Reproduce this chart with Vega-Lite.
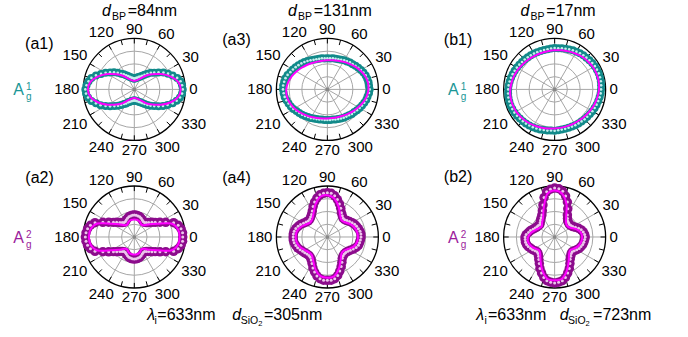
{
"$schema":"https://vega.github.io/schema/vega-lite/v6.json",
"padding":0,
"config":{"view":{"stroke":null},"font":"Liberation Sans","text":{"font":"Liberation Sans","color":"#000"}},
"datasets":{
"rings":[{"r":0.25},{"r":0.5},{"r":0.75},{"r":1}],
"ang30":[{"a":0,"t":"0"},{"a":30,"t":"30"},{"a":60,"t":"60"},{"a":90,"t":"90"},{"a":120,"t":"120"},{"a":150,"t":"150"},{"a":180,"t":"180"},{"a":210,"t":"210"},{"a":240,"t":"240"},{"a":270,"t":"270"},{"a":300,"t":"300"},{"a":330,"t":"330"}],
"ang15":[{"a":0},{"a":15},{"a":30},{"a":45},{"a":60},{"a":75},{"a":90},{"a":105},{"a":120},{"a":135},{"a":150},{"a":165},{"a":180},{"a":195},{"a":210},{"a":225},{"a":240},{"a":255},{"a":270},{"a":285},{"a":300},{"a":315},{"a":330},{"a":345}],
"a1f":[{"a":0,"r":0.91},{"a":10,"r":0.87},{"a":20,"r":0.75},{"a":30,"r":0.6},{"a":40,"r":0.46},{"a":50,"r":0.35},{"a":60,"r":0.25},{"a":70,"r":0.2},{"a":80,"r":0.175},{"a":90,"r":0.17},{"a":100,"r":0.175},{"a":110,"r":0.2},{"a":120,"r":0.25},{"a":130,"r":0.35},{"a":140,"r":0.46},{"a":150,"r":0.6},{"a":160,"r":0.75},{"a":170,"r":0.87},{"a":180,"r":0.91},{"a":190,"r":0.87},{"a":200,"r":0.75},{"a":210,"r":0.6},{"a":220,"r":0.46},{"a":230,"r":0.35},{"a":240,"r":0.25},{"a":250,"r":0.2},{"a":260,"r":0.175},{"a":270,"r":0.17},{"a":280,"r":0.175},{"a":290,"r":0.2},{"a":300,"r":0.25},{"a":310,"r":0.35},{"a":320,"r":0.46},{"a":330,"r":0.6},{"a":340,"r":0.75},{"a":350,"r":0.87}],
"a1d":[{"a":0,"r":0.95},{"a":5,"r":0.94},{"a":10,"r":0.92},{"a":15,"r":0.87},{"a":20,"r":0.8},{"a":25,"r":0.73},{"a":30,"r":0.66},{"a":35,"r":0.58},{"a":40,"r":0.51},{"a":45,"r":0.46},{"a":50,"r":0.4},{"a":55,"r":0.35},{"a":60,"r":0.31},{"a":65,"r":0.28},{"a":70,"r":0.26},{"a":75,"r":0.24},{"a":80,"r":0.23},{"a":85,"r":0.22},{"a":90,"r":0.21},{"a":95,"r":0.22},{"a":100,"r":0.23},{"a":105,"r":0.24},{"a":110,"r":0.26},{"a":115,"r":0.29},{"a":120,"r":0.32},{"a":125,"r":0.36},{"a":130,"r":0.4},{"a":135,"r":0.46},{"a":140,"r":0.52},{"a":145,"r":0.58},{"a":150,"r":0.65},{"a":155,"r":0.72},{"a":160,"r":0.8},{"a":165,"r":0.87},{"a":170,"r":0.91},{"a":175,"r":0.94},{"a":180,"r":0.96},{"a":185,"r":0.95},{"a":190,"r":0.92},{"a":195,"r":0.87},{"a":200,"r":0.8},{"a":205,"r":0.73},{"a":210,"r":0.65},{"a":215,"r":0.58},{"a":220,"r":0.51},{"a":225,"r":0.45},{"a":230,"r":0.4},{"a":235,"r":0.35},{"a":240,"r":0.32},{"a":245,"r":0.28},{"a":250,"r":0.26},{"a":255,"r":0.24},{"a":260,"r":0.23},{"a":265,"r":0.22},{"a":270,"r":0.22},{"a":275,"r":0.22},{"a":280,"r":0.23},{"a":285,"r":0.24},{"a":290,"r":0.26},{"a":295,"r":0.28},{"a":300,"r":0.31},{"a":305,"r":0.35},{"a":310,"r":0.4},{"a":315,"r":0.45},{"a":320,"r":0.51},{"a":325,"r":0.58},{"a":330,"r":0.65},{"a":335,"r":0.72},{"a":340,"r":0.8},{"a":345,"r":0.86},{"a":350,"r":0.91},{"a":355,"r":0.94}],
"a3f":[{"a":0,"r":0.806},{"a":10,"r":0.806},{"a":20,"r":0.783},{"a":30,"r":0.745},{"a":40,"r":0.7},{"a":50,"r":0.66},{"a":60,"r":0.625},{"a":70,"r":0.598},{"a":80,"r":0.58},{"a":90,"r":0.571},{"a":100,"r":0.571},{"a":110,"r":0.58},{"a":120,"r":0.598},{"a":130,"r":0.625},{"a":140,"r":0.66},{"a":150,"r":0.7},{"a":160,"r":0.745},{"a":170,"r":0.783},{"a":180,"r":0.806},{"a":190,"r":0.806},{"a":200,"r":0.783},{"a":210,"r":0.745},{"a":220,"r":0.7},{"a":230,"r":0.66},{"a":240,"r":0.625},{"a":250,"r":0.598},{"a":260,"r":0.58},{"a":270,"r":0.571},{"a":280,"r":0.571},{"a":290,"r":0.58},{"a":300,"r":0.598},{"a":310,"r":0.625},{"a":320,"r":0.66},{"a":330,"r":0.7},{"a":340,"r":0.745},{"a":350,"r":0.783}],
"a3d":[{"a":0,"r":0.83},{"a":5,"r":0.82},{"a":10,"r":0.82},{"a":15,"r":0.81},{"a":20,"r":0.8},{"a":25,"r":0.78},{"a":30,"r":0.76},{"a":35,"r":0.74},{"a":40,"r":0.72},{"a":45,"r":0.7},{"a":50,"r":0.69},{"a":55,"r":0.67},{"a":60,"r":0.66},{"a":65,"r":0.64},{"a":70,"r":0.63},{"a":75,"r":0.62},{"a":80,"r":0.62},{"a":85,"r":0.61},{"a":90,"r":0.61},{"a":95,"r":0.61},{"a":100,"r":0.62},{"a":105,"r":0.62},{"a":110,"r":0.63},{"a":115,"r":0.64},{"a":120,"r":0.66},{"a":125,"r":0.68},{"a":130,"r":0.7},{"a":135,"r":0.72},{"a":140,"r":0.74},{"a":145,"r":0.76},{"a":150,"r":0.78},{"a":155,"r":0.8},{"a":160,"r":0.83},{"a":165,"r":0.85},{"a":170,"r":0.86},{"a":175,"r":0.87},{"a":180,"r":0.87},{"a":185,"r":0.86},{"a":190,"r":0.85},{"a":195,"r":0.83},{"a":200,"r":0.81},{"a":205,"r":0.79},{"a":210,"r":0.77},{"a":215,"r":0.74},{"a":220,"r":0.72},{"a":225,"r":0.7},{"a":230,"r":0.68},{"a":235,"r":0.66},{"a":240,"r":0.65},{"a":245,"r":0.63},{"a":250,"r":0.62},{"a":255,"r":0.61},{"a":260,"r":0.6},{"a":265,"r":0.6},{"a":270,"r":0.6},{"a":275,"r":0.6},{"a":280,"r":0.6},{"a":285,"r":0.61},{"a":290,"r":0.62},{"a":295,"r":0.63},{"a":300,"r":0.64},{"a":305,"r":0.65},{"a":310,"r":0.66},{"a":315,"r":0.68},{"a":320,"r":0.69},{"a":325,"r":0.71},{"a":330,"r":0.73},{"a":335,"r":0.75},{"a":340,"r":0.77},{"a":345,"r":0.79},{"a":350,"r":0.8},{"a":355,"r":0.82}],
"b1f":[{"a":0,"r":0.87},{"a":10,"r":0.878},{"a":20,"r":0.878},{"a":30,"r":0.87},{"a":40,"r":0.853},{"a":50,"r":0.835},{"a":60,"r":0.813},{"a":70,"r":0.793},{"a":80,"r":0.778},{"a":90,"r":0.767},{"a":100,"r":0.761},{"a":110,"r":0.761},{"a":120,"r":0.767},{"a":130,"r":0.778},{"a":140,"r":0.793},{"a":150,"r":0.813},{"a":160,"r":0.835},{"a":170,"r":0.853},{"a":180,"r":0.87},{"a":190,"r":0.878},{"a":200,"r":0.878},{"a":210,"r":0.87},{"a":220,"r":0.853},{"a":230,"r":0.835},{"a":240,"r":0.813},{"a":250,"r":0.793},{"a":260,"r":0.778},{"a":270,"r":0.767},{"a":280,"r":0.761},{"a":290,"r":0.761},{"a":300,"r":0.767},{"a":310,"r":0.778},{"a":320,"r":0.793},{"a":330,"r":0.813},{"a":340,"r":0.835},{"a":350,"r":0.853}],
"b1d":[{"a":0,"r":0.91},{"a":5,"r":0.915},{"a":10,"r":0.92},{"a":15,"r":0.92},{"a":20,"r":0.92},{"a":25,"r":0.915},{"a":30,"r":0.91},{"a":35,"r":0.9},{"a":40,"r":0.89},{"a":45,"r":0.88},{"a":50,"r":0.875},{"a":55,"r":0.865},{"a":60,"r":0.855},{"a":65,"r":0.845},{"a":70,"r":0.835},{"a":75,"r":0.825},{"a":80,"r":0.82},{"a":85,"r":0.81},{"a":90,"r":0.81},{"a":95,"r":0.805},{"a":100,"r":0.8},{"a":105,"r":0.8},{"a":110,"r":0.8},{"a":115,"r":0.805},{"a":120,"r":0.81},{"a":125,"r":0.815},{"a":130,"r":0.82},{"a":135,"r":0.83},{"a":140,"r":0.835},{"a":145,"r":0.845},{"a":150,"r":0.855},{"a":155,"r":0.865},{"a":160,"r":0.875},{"a":165,"r":0.885},{"a":170,"r":0.895},{"a":175,"r":0.905},{"a":180,"r":0.91},{"a":185,"r":0.915},{"a":190,"r":0.92},{"a":195,"r":0.92},{"a":200,"r":0.92},{"a":205,"r":0.915},{"a":210,"r":0.91},{"a":215,"r":0.9},{"a":220,"r":0.89},{"a":225,"r":0.88},{"a":230,"r":0.875},{"a":235,"r":0.865},{"a":240,"r":0.855},{"a":245,"r":0.845},{"a":250,"r":0.835},{"a":255,"r":0.825},{"a":260,"r":0.82},{"a":265,"r":0.81},{"a":270,"r":0.81},{"a":275,"r":0.805},{"a":280,"r":0.8},{"a":285,"r":0.8},{"a":290,"r":0.8},{"a":295,"r":0.805},{"a":300,"r":0.81},{"a":305,"r":0.815},{"a":310,"r":0.82},{"a":315,"r":0.83},{"a":320,"r":0.835},{"a":325,"r":0.845},{"a":330,"r":0.855},{"a":335,"r":0.865},{"a":340,"r":0.875},{"a":345,"r":0.885},{"a":350,"r":0.895},{"a":355,"r":0.905}],
"a2f":[{"a":0,"r":0.89},{"a":10,"r":0.87},{"a":20,"r":0.77},{"a":30,"r":0.52},{"a":40,"r":0.39},{"a":50,"r":0.3},{"a":60,"r":0.28},{"a":70,"r":0.32},{"a":80,"r":0.34},{"a":90,"r":0.345},{"a":100,"r":0.34},{"a":110,"r":0.32},{"a":120,"r":0.28},{"a":130,"r":0.3},{"a":140,"r":0.39},{"a":150,"r":0.52},{"a":160,"r":0.77},{"a":170,"r":0.87},{"a":180,"r":0.89},{"a":190,"r":0.87},{"a":200,"r":0.77},{"a":210,"r":0.52},{"a":220,"r":0.39},{"a":230,"r":0.3},{"a":240,"r":0.28},{"a":250,"r":0.32},{"a":260,"r":0.34},{"a":270,"r":0.345},{"a":280,"r":0.34},{"a":290,"r":0.32},{"a":300,"r":0.28},{"a":310,"r":0.3},{"a":320,"r":0.39},{"a":330,"r":0.52},{"a":340,"r":0.77},{"a":350,"r":0.87}],
"a2d":[{"a":0,"r":0.95},{"a":5,"r":0.95},{"a":10,"r":0.93},{"a":15,"r":0.89},{"a":20,"r":0.82},{"a":25,"r":0.68},{"a":30,"r":0.58},{"a":35,"r":0.5},{"a":40,"r":0.45},{"a":45,"r":0.4},{"a":50,"r":0.37},{"a":55,"r":0.35},{"a":60,"r":0.35},{"a":65,"r":0.37},{"a":70,"r":0.39},{"a":75,"r":0.41},{"a":80,"r":0.42},{"a":85,"r":0.43},{"a":90,"r":0.43},{"a":95,"r":0.43},{"a":100,"r":0.42},{"a":105,"r":0.41},{"a":110,"r":0.39},{"a":115,"r":0.37},{"a":120,"r":0.35},{"a":125,"r":0.35},{"a":130,"r":0.37},{"a":135,"r":0.4},{"a":140,"r":0.45},{"a":145,"r":0.5},{"a":150,"r":0.58},{"a":155,"r":0.68},{"a":160,"r":0.82},{"a":165,"r":0.89},{"a":170,"r":0.93},{"a":175,"r":0.95},{"a":180,"r":0.96},{"a":185,"r":0.95},{"a":190,"r":0.93},{"a":195,"r":0.89},{"a":200,"r":0.82},{"a":205,"r":0.68},{"a":210,"r":0.58},{"a":215,"r":0.5},{"a":220,"r":0.45},{"a":225,"r":0.4},{"a":230,"r":0.37},{"a":235,"r":0.35},{"a":240,"r":0.35},{"a":245,"r":0.37},{"a":250,"r":0.39},{"a":255,"r":0.41},{"a":260,"r":0.42},{"a":265,"r":0.43},{"a":270,"r":0.43},{"a":275,"r":0.43},{"a":280,"r":0.42},{"a":285,"r":0.41},{"a":290,"r":0.39},{"a":295,"r":0.37},{"a":300,"r":0.35},{"a":305,"r":0.35},{"a":310,"r":0.37},{"a":315,"r":0.4},{"a":320,"r":0.45},{"a":325,"r":0.5},{"a":330,"r":0.58},{"a":335,"r":0.68},{"a":340,"r":0.82},{"a":345,"r":0.89},{"a":350,"r":0.93},{"a":355,"r":0.95}],
"a4f":[{"a":0,"r":0.6},{"a":10,"r":0.59},{"a":20,"r":0.56},{"a":30,"r":0.51},{"a":40,"r":0.45},{"a":50,"r":0.43},{"a":60,"r":0.5},{"a":70,"r":0.64},{"a":80,"r":0.77},{"a":90,"r":0.82},{"a":100,"r":0.8},{"a":110,"r":0.68},{"a":120,"r":0.54},{"a":130,"r":0.46},{"a":140,"r":0.44},{"a":150,"r":0.49},{"a":160,"r":0.56},{"a":170,"r":0.61},{"a":180,"r":0.62},{"a":190,"r":0.61},{"a":200,"r":0.57},{"a":210,"r":0.51},{"a":220,"r":0.47},{"a":230,"r":0.47},{"a":240,"r":0.55},{"a":250,"r":0.68},{"a":260,"r":0.78},{"a":270,"r":0.8},{"a":280,"r":0.78},{"a":290,"r":0.66},{"a":300,"r":0.52},{"a":310,"r":0.43},{"a":320,"r":0.42},{"a":330,"r":0.47},{"a":340,"r":0.55},{"a":350,"r":0.59}],
"a4d":[{"a":0,"r":0.66},{"a":5,"r":0.66},{"a":10,"r":0.65},{"a":15,"r":0.63},{"a":20,"r":0.61},{"a":25,"r":0.59},{"a":30,"r":0.56},{"a":35,"r":0.53},{"a":40,"r":0.5},{"a":45,"r":0.48},{"a":50,"r":0.48},{"a":55,"r":0.51},{"a":60,"r":0.55},{"a":65,"r":0.62},{"a":70,"r":0.69},{"a":75,"r":0.76},{"a":80,"r":0.82},{"a":85,"r":0.86},{"a":90,"r":0.87},{"a":95,"r":0.86},{"a":100,"r":0.84},{"a":105,"r":0.79},{"a":110,"r":0.73},{"a":115,"r":0.66},{"a":120,"r":0.59},{"a":125,"r":0.54},{"a":130,"r":0.51},{"a":135,"r":0.49},{"a":140,"r":0.49},{"a":145,"r":0.51},{"a":150,"r":0.54},{"a":155,"r":0.58},{"a":160,"r":0.61},{"a":165,"r":0.64},{"a":170,"r":0.66},{"a":175,"r":0.67},{"a":180,"r":0.67},{"a":185,"r":0.67},{"a":190,"r":0.66},{"a":195,"r":0.64},{"a":200,"r":0.62},{"a":205,"r":0.59},{"a":210,"r":0.56},{"a":215,"r":0.54},{"a":220,"r":0.52},{"a":225,"r":0.51},{"a":230,"r":0.52},{"a":235,"r":0.55},{"a":240,"r":0.6},{"a":245,"r":0.67},{"a":250,"r":0.73},{"a":255,"r":0.79},{"a":260,"r":0.83},{"a":265,"r":0.85},{"a":270,"r":0.85},{"a":275,"r":0.85},{"a":280,"r":0.83},{"a":285,"r":0.78},{"a":290,"r":0.71},{"a":295,"r":0.64},{"a":300,"r":0.57},{"a":305,"r":0.51},{"a":310,"r":0.48},{"a":315,"r":0.47},{"a":320,"r":0.47},{"a":325,"r":0.49},{"a":330,"r":0.52},{"a":335,"r":0.56},{"a":340,"r":0.6},{"a":345,"r":0.63},{"a":350,"r":0.64},{"a":355,"r":0.65}],
"b2f":[{"a":0,"r":0.54},{"a":10,"r":0.52},{"a":20,"r":0.45},{"a":30,"r":0.36},{"a":40,"r":0.33},{"a":50,"r":0.35},{"a":60,"r":0.45},{"a":70,"r":0.68},{"a":80,"r":0.86},{"a":90,"r":0.91},{"a":100,"r":0.85},{"a":110,"r":0.62},{"a":120,"r":0.45},{"a":130,"r":0.38},{"a":140,"r":0.33},{"a":150,"r":0.35},{"a":160,"r":0.4},{"a":170,"r":0.47},{"a":180,"r":0.52},{"a":190,"r":0.53},{"a":200,"r":0.5},{"a":210,"r":0.45},{"a":220,"r":0.4},{"a":230,"r":0.44},{"a":240,"r":0.55},{"a":250,"r":0.7},{"a":260,"r":0.83},{"a":270,"r":0.85},{"a":280,"r":0.83},{"a":290,"r":0.7},{"a":300,"r":0.55},{"a":310,"r":0.44},{"a":320,"r":0.4},{"a":330,"r":0.45},{"a":340,"r":0.5},{"a":350,"r":0.53}],
"b2d":[{"a":0,"r":0.6},{"a":5,"r":0.59},{"a":10,"r":0.57},{"a":15,"r":0.54},{"a":20,"r":0.5},{"a":25,"r":0.45},{"a":30,"r":0.41},{"a":35,"r":0.39},{"a":40,"r":0.38},{"a":45,"r":0.39},{"a":50,"r":0.4},{"a":55,"r":0.44},{"a":60,"r":0.5},{"a":65,"r":0.61},{"a":70,"r":0.73},{"a":75,"r":0.83},{"a":80,"r":0.91},{"a":85,"r":0.95},{"a":90,"r":0.96},{"a":95,"r":0.94},{"a":100,"r":0.9},{"a":105,"r":0.8},{"a":110,"r":0.67},{"a":115,"r":0.57},{"a":120,"r":0.5},{"a":125,"r":0.46},{"a":130,"r":0.43},{"a":135,"r":0.4},{"a":140,"r":0.38},{"a":145,"r":0.39},{"a":150,"r":0.4},{"a":155,"r":0.42},{"a":160,"r":0.45},{"a":165,"r":0.49},{"a":170,"r":0.52},{"a":175,"r":0.56},{"a":180,"r":0.58},{"a":185,"r":0.58},{"a":190,"r":0.58},{"a":195,"r":0.57},{"a":200,"r":0.55},{"a":205,"r":0.52},{"a":210,"r":0.5},{"a":215,"r":0.47},{"a":220,"r":0.45},{"a":225,"r":0.46},{"a":230,"r":0.49},{"a":235,"r":0.54},{"a":240,"r":0.6},{"a":245,"r":0.68},{"a":250,"r":0.75},{"a":255,"r":0.82},{"a":260,"r":0.87},{"a":265,"r":0.89},{"a":270,"r":0.9},{"a":275,"r":0.89},{"a":280,"r":0.87},{"a":285,"r":0.82},{"a":290,"r":0.75},{"a":295,"r":0.68},{"a":300,"r":0.6},{"a":305,"r":0.53},{"a":310,"r":0.49},{"a":315,"r":0.46},{"a":320,"r":0.45},{"a":325,"r":0.47},{"a":330,"r":0.5},{"a":335,"r":0.53},{"a":340,"r":0.55},{"a":345,"r":0.57},{"a":350,"r":0.58},{"a":355,"r":0.59}]
},
"columns":3,
"spacing":0,
"bounds":"flush",
"concat":[
{"width":229.333,"height":168.5,"data":{"values":[{}]},"layer":[
{"data":{"name":"rings"},"transform":[{"filter":"datum.r<1"}],"mark":{"type":"point","shape":"circle","filled":false,"color":"#a6a6a6","strokeWidth":1,"opacity":1},"encoding":{"x":{"datum":0,"type":"quantitative","axis":null,"scale":{"domain":[-2.6333,1.8634],"nice":false,"zero":false}},"y":{"datum":0,"type":"quantitative","axis":null,"scale":{"domain":[-1.551,1.7529],"nice":false,"zero":false}},"size":{"field":"r","type":"quantitative","legend":null,"scale":{"type":"pow","exponent":2,"domain":[0,1],"range":[0,10404],"zero":true}}}},
{"data":{"name":"ang30"},"transform":[{"calculate":"0","as":"z"},{"calculate":"cos(datum.a*PI/180)","as":"cx"},{"calculate":"sin(datum.a*PI/180)","as":"cy"}],"mark":{"type":"rule","color":"#a6a6a6","strokeWidth":1},"encoding":{"x":{"field":"z","type":"quantitative","axis":null},"y":{"field":"z","type":"quantitative","axis":null},"x2":{"field":"cx"},"y2":{"field":"cy"}}},
{"data":{"name":"rings"},"transform":[{"filter":"datum.r==1"}],"mark":{"type":"point","shape":"circle","filled":false,"color":"#000000","strokeWidth":1.3,"opacity":1},"encoding":{"x":{"datum":0,"type":"quantitative","axis":null},"y":{"datum":0,"type":"quantitative","axis":null},"size":{"field":"r","type":"quantitative","legend":null}}},
{"data":{"name":"ang15"},"transform":[{"calculate":"0.9*cos(datum.a*PI/180)","as":"x1"},{"calculate":"0.9*sin(datum.a*PI/180)","as":"y1"},{"calculate":"cos(datum.a*PI/180)","as":"x2"},{"calculate":"sin(datum.a*PI/180)","as":"y2"}],"mark":{"type":"rule","color":"#000000","strokeWidth":1},"encoding":{"x":{"field":"x1","type":"quantitative","axis":null},"y":{"field":"y1","type":"quantitative","axis":null},"x2":{"field":"x2"},"y2":{"field":"y2"}}},
{"mark":{"type":"point","filled":true,"color":"#888888","size":14,"opacity":1},"encoding":{"x":{"datum":0,"type":"quantitative","axis":null},"y":{"datum":0,"type":"quantitative","axis":null}}},
{"data":{"name":"ang30"},"transform":[{"calculate":"cos(datum.a*PI/180)","as":"c"},{"calculate":"sin(datum.a*PI/180)","as":"s"},{"calculate":"1.078+abs(datum.c)*0.0818*length(datum.t)+abs(datum.s)*0.108","as":"rho"},{"calculate":"datum.rho*datum.c","as":"lx"},{"calculate":"datum.rho*datum.s","as":"ly"}],"mark":{"type":"text","fontSize":15,"align":"center","baseline":"middle"},"encoding":{"x":{"field":"lx","type":"quantitative","axis":null},"y":{"field":"ly","type":"quantitative","axis":null},"text":{"field":"t","type":"nominal"}}},
{"data":{"name":"a1d"},"transform":[{"calculate":"datum.r*cos(datum.a*PI/180)","as":"x"},{"calculate":"datum.r*sin(datum.a*PI/180)","as":"y"}],"mark":{"type":"point","filled":true,"color":"#128a8a","size":64,"opacity":1},"encoding":{"x":{"field":"x","type":"quantitative","axis":null},"y":{"field":"y","type":"quantitative","axis":null}}},
{"data":{"name":"a1d"},"transform":[{"calculate":"datum.r*cos(datum.a*PI/180)","as":"x"},{"calculate":"datum.r*sin(datum.a*PI/180)","as":"y"}],"mark":{"type":"point","filled":true,"color":"#c6eeee","size":7,"opacity":1},"encoding":{"x":{"field":"x","type":"quantitative","axis":null},"y":{"field":"y","type":"quantitative","axis":null}}},
{"data":{"name":"a1f"},"transform":[{"calculate":"datum.r*cos(datum.a*PI/180)","as":"x"},{"calculate":"datum.r*sin(datum.a*PI/180)","as":"y"}],"mark":{"type":"line","interpolate":"cardinal-closed","color":"#ff00ff","strokeWidth":2},"encoding":{"x":{"field":"x","type":"quantitative","axis":null},"y":{"field":"y","type":"quantitative","axis":null},"order":{"field":"a","type":"quantitative"}}},
{"mark":{"type":"text","text":"(a1)","fontSize":16,"align":"center","baseline":"middle"},"encoding":{"x":{"datum":-1.863,"type":"quantitative","axis":null},"y":{"datum":0.892,"type":"quantitative","axis":null}}},
{"mark":{"type":"text","text":"d","fontSize":16,"fontStyle":"italic","align":"left","baseline":"alphabetic"},"encoding":{"x":{"datum":-0.633,"type":"quantitative","axis":null},"y":{"datum":1.437,"type":"quantitative","axis":null}}},
{"mark":{"type":"text","text":"BP","fontSize":10.5,"align":"left","baseline":"alphabetic"},"encoding":{"x":{"datum":-0.437,"type":"quantitative","axis":null},"y":{"datum":1.359,"type":"quantitative","axis":null}}},
{"mark":{"type":"text","text":"=84nm","fontSize":16,"align":"left","baseline":"alphabetic"},"encoding":{"x":{"datum":-0.129,"type":"quantitative","axis":null},"y":{"datum":1.437,"type":"quantitative","axis":null}}},
{"mark":{"type":"text","text":"A","fontSize":16,"color":"#1a9696","align":"left","baseline":"alphabetic"},"encoding":{"x":{"datum":-2.373,"type":"quantitative","axis":null},"y":{"datum":-0.11,"type":"quantitative","axis":null}}},
{"mark":{"type":"text","text":"g","fontSize":10,"color":"#1a9696","align":"left","baseline":"alphabetic"},"encoding":{"x":{"datum":-2.124,"type":"quantitative","axis":null},"y":{"datum":-0.215,"type":"quantitative","axis":null}}},
{"mark":{"type":"text","text":"1","fontSize":10,"color":"#1a9696","align":"left","baseline":"alphabetic"},"encoding":{"x":{"datum":-2.124,"type":"quantitative","axis":null},"y":{"datum":-0.01,"type":"quantitative","axis":null}}}
]},
{"width":229.333,"height":168.5,"data":{"values":[{}]},"layer":[
{"data":{"name":"rings"},"transform":[{"filter":"datum.r<1"}],"mark":{"type":"point","shape":"circle","filled":false,"color":"#a6a6a6","strokeWidth":1,"opacity":1},"encoding":{"x":{"datum":0,"type":"quantitative","axis":null,"scale":{"domain":[-1.9092,2.5876],"nice":false,"zero":false}},"y":{"datum":0,"type":"quantitative","axis":null,"scale":{"domain":[-1.551,1.7529],"nice":false,"zero":false}},"size":{"field":"r","type":"quantitative","legend":null,"scale":{"type":"pow","exponent":2,"domain":[0,1],"range":[0,10404],"zero":true}}}},
{"data":{"name":"ang30"},"transform":[{"calculate":"0","as":"z"},{"calculate":"cos(datum.a*PI/180)","as":"cx"},{"calculate":"sin(datum.a*PI/180)","as":"cy"}],"mark":{"type":"rule","color":"#a6a6a6","strokeWidth":1},"encoding":{"x":{"field":"z","type":"quantitative","axis":null},"y":{"field":"z","type":"quantitative","axis":null},"x2":{"field":"cx"},"y2":{"field":"cy"}}},
{"data":{"name":"rings"},"transform":[{"filter":"datum.r==1"}],"mark":{"type":"point","shape":"circle","filled":false,"color":"#000000","strokeWidth":1.3,"opacity":1},"encoding":{"x":{"datum":0,"type":"quantitative","axis":null},"y":{"datum":0,"type":"quantitative","axis":null},"size":{"field":"r","type":"quantitative","legend":null}}},
{"data":{"name":"ang15"},"transform":[{"calculate":"0.9*cos(datum.a*PI/180)","as":"x1"},{"calculate":"0.9*sin(datum.a*PI/180)","as":"y1"},{"calculate":"cos(datum.a*PI/180)","as":"x2"},{"calculate":"sin(datum.a*PI/180)","as":"y2"}],"mark":{"type":"rule","color":"#000000","strokeWidth":1},"encoding":{"x":{"field":"x1","type":"quantitative","axis":null},"y":{"field":"y1","type":"quantitative","axis":null},"x2":{"field":"x2"},"y2":{"field":"y2"}}},
{"mark":{"type":"point","filled":true,"color":"#888888","size":14,"opacity":1},"encoding":{"x":{"datum":0,"type":"quantitative","axis":null},"y":{"datum":0,"type":"quantitative","axis":null}}},
{"data":{"name":"ang30"},"transform":[{"calculate":"cos(datum.a*PI/180)","as":"c"},{"calculate":"sin(datum.a*PI/180)","as":"s"},{"calculate":"1.078+abs(datum.c)*0.0818*length(datum.t)+abs(datum.s)*0.108","as":"rho"},{"calculate":"datum.rho*datum.c","as":"lx"},{"calculate":"datum.rho*datum.s","as":"ly"}],"mark":{"type":"text","fontSize":15,"align":"center","baseline":"middle"},"encoding":{"x":{"field":"lx","type":"quantitative","axis":null},"y":{"field":"ly","type":"quantitative","axis":null},"text":{"field":"t","type":"nominal"}}},
{"data":{"name":"a3d"},"transform":[{"calculate":"datum.r*cos(datum.a*PI/180)","as":"x"},{"calculate":"datum.r*sin(datum.a*PI/180)","as":"y"}],"mark":{"type":"point","filled":true,"color":"#128a8a","size":64,"opacity":1},"encoding":{"x":{"field":"x","type":"quantitative","axis":null},"y":{"field":"y","type":"quantitative","axis":null}}},
{"data":{"name":"a3d"},"transform":[{"calculate":"datum.r*cos(datum.a*PI/180)","as":"x"},{"calculate":"datum.r*sin(datum.a*PI/180)","as":"y"}],"mark":{"type":"point","filled":true,"color":"#c6eeee","size":7,"opacity":1},"encoding":{"x":{"field":"x","type":"quantitative","axis":null},"y":{"field":"y","type":"quantitative","axis":null}}},
{"data":{"name":"a3f"},"transform":[{"calculate":"datum.r*cos(datum.a*PI/180)","as":"x"},{"calculate":"datum.r*sin(datum.a*PI/180)","as":"y"}],"mark":{"type":"line","interpolate":"cardinal-closed","color":"#ff00ff","strokeWidth":2},"encoding":{"x":{"field":"x","type":"quantitative","axis":null},"y":{"field":"y","type":"quantitative","axis":null},"order":{"field":"a","type":"quantitative"}}},
{"mark":{"type":"text","text":"(a3)","fontSize":16,"align":"center","baseline":"middle"},"encoding":{"x":{"datum":-1.782,"type":"quantitative","axis":null},"y":{"datum":0.971,"type":"quantitative","axis":null}}},
{"mark":{"type":"text","text":"d","fontSize":16,"fontStyle":"italic","align":"left","baseline":"alphabetic"},"encoding":{"x":{"datum":-0.773,"type":"quantitative","axis":null},"y":{"datum":1.437,"type":"quantitative","axis":null}}},
{"mark":{"type":"text","text":"BP","fontSize":10.5,"align":"left","baseline":"alphabetic"},"encoding":{"x":{"datum":-0.576,"type":"quantitative","axis":null},"y":{"datum":1.359,"type":"quantitative","axis":null}}},
{"mark":{"type":"text","text":"=131nm","fontSize":16,"align":"left","baseline":"alphabetic"},"encoding":{"x":{"datum":-0.269,"type":"quantitative","axis":null},"y":{"datum":1.437,"type":"quantitative","axis":null}}}
]},
{"width":229.333,"height":168.5,"data":{"values":[{}]},"layer":[
{"data":{"name":"rings"},"transform":[{"filter":"datum.r<1"}],"mark":{"type":"point","shape":"circle","filled":false,"color":"#a6a6a6","strokeWidth":1,"opacity":1},"encoding":{"x":{"datum":0,"type":"quantitative","axis":null,"scale":{"domain":[-1.8555,2.6412],"nice":false,"zero":false}},"y":{"datum":0,"type":"quantitative","axis":null,"scale":{"domain":[-1.551,1.7529],"nice":false,"zero":false}},"size":{"field":"r","type":"quantitative","legend":null,"scale":{"type":"pow","exponent":2,"domain":[0,1],"range":[0,10404],"zero":true}}}},
{"data":{"name":"ang30"},"transform":[{"calculate":"0","as":"z"},{"calculate":"cos(datum.a*PI/180)","as":"cx"},{"calculate":"sin(datum.a*PI/180)","as":"cy"}],"mark":{"type":"rule","color":"#a6a6a6","strokeWidth":1},"encoding":{"x":{"field":"z","type":"quantitative","axis":null},"y":{"field":"z","type":"quantitative","axis":null},"x2":{"field":"cx"},"y2":{"field":"cy"}}},
{"data":{"name":"rings"},"transform":[{"filter":"datum.r==1"}],"mark":{"type":"point","shape":"circle","filled":false,"color":"#000000","strokeWidth":1.3,"opacity":1},"encoding":{"x":{"datum":0,"type":"quantitative","axis":null},"y":{"datum":0,"type":"quantitative","axis":null},"size":{"field":"r","type":"quantitative","legend":null}}},
{"data":{"name":"ang15"},"transform":[{"calculate":"0.9*cos(datum.a*PI/180)","as":"x1"},{"calculate":"0.9*sin(datum.a*PI/180)","as":"y1"},{"calculate":"cos(datum.a*PI/180)","as":"x2"},{"calculate":"sin(datum.a*PI/180)","as":"y2"}],"mark":{"type":"rule","color":"#000000","strokeWidth":1},"encoding":{"x":{"field":"x1","type":"quantitative","axis":null},"y":{"field":"y1","type":"quantitative","axis":null},"x2":{"field":"x2"},"y2":{"field":"y2"}}},
{"mark":{"type":"point","filled":true,"color":"#888888","size":14,"opacity":1},"encoding":{"x":{"datum":0,"type":"quantitative","axis":null},"y":{"datum":0,"type":"quantitative","axis":null}}},
{"data":{"name":"ang30"},"transform":[{"calculate":"cos(datum.a*PI/180)","as":"c"},{"calculate":"sin(datum.a*PI/180)","as":"s"},{"calculate":"1.078+abs(datum.c)*0.0818*length(datum.t)+abs(datum.s)*0.108","as":"rho"},{"calculate":"datum.rho*datum.c","as":"lx"},{"calculate":"datum.rho*datum.s","as":"ly"}],"mark":{"type":"text","fontSize":15,"align":"center","baseline":"middle"},"encoding":{"x":{"field":"lx","type":"quantitative","axis":null},"y":{"field":"ly","type":"quantitative","axis":null},"text":{"field":"t","type":"nominal"}}},
{"data":{"name":"b1d"},"transform":[{"calculate":"datum.r*cos(datum.a*PI/180)","as":"x"},{"calculate":"datum.r*sin(datum.a*PI/180)","as":"y"}],"mark":{"type":"point","filled":true,"color":"#128a8a","size":64,"opacity":1},"encoding":{"x":{"field":"x","type":"quantitative","axis":null},"y":{"field":"y","type":"quantitative","axis":null}}},
{"data":{"name":"b1d"},"transform":[{"calculate":"datum.r*cos(datum.a*PI/180)","as":"x"},{"calculate":"datum.r*sin(datum.a*PI/180)","as":"y"}],"mark":{"type":"point","filled":true,"color":"#c6eeee","size":7,"opacity":1},"encoding":{"x":{"field":"x","type":"quantitative","axis":null},"y":{"field":"y","type":"quantitative","axis":null}}},
{"data":{"name":"b1f"},"transform":[{"calculate":"datum.r*cos(datum.a*PI/180)","as":"x"},{"calculate":"datum.r*sin(datum.a*PI/180)","as":"y"}],"mark":{"type":"line","interpolate":"cardinal-closed","color":"#ff00ff","strokeWidth":2},"encoding":{"x":{"field":"x","type":"quantitative","axis":null},"y":{"field":"y","type":"quantitative","axis":null},"order":{"field":"a","type":"quantitative"}}},
{"mark":{"type":"text","text":"(b1)","fontSize":16,"align":"center","baseline":"middle"},"encoding":{"x":{"datum":-1.894,"type":"quantitative","axis":null},"y":{"datum":0.961,"type":"quantitative","axis":null}}},
{"mark":{"type":"text","text":"d","fontSize":16,"fontStyle":"italic","align":"left","baseline":"alphabetic"},"encoding":{"x":{"datum":-0.667,"type":"quantitative","axis":null},"y":{"datum":1.437,"type":"quantitative","axis":null}}},
{"mark":{"type":"text","text":"BP","fontSize":10.5,"align":"left","baseline":"alphabetic"},"encoding":{"x":{"datum":-0.471,"type":"quantitative","axis":null},"y":{"datum":1.359,"type":"quantitative","axis":null}}},
{"mark":{"type":"text","text":"=17nm","fontSize":16,"align":"left","baseline":"alphabetic"},"encoding":{"x":{"datum":-0.163,"type":"quantitative","axis":null},"y":{"datum":1.437,"type":"quantitative","axis":null}}},
{"mark":{"type":"text","text":"A","fontSize":16,"color":"#1a9696","align":"left","baseline":"alphabetic"},"encoding":{"x":{"datum":-2.09,"type":"quantitative","axis":null},"y":{"datum":-0.11,"type":"quantitative","axis":null}}},
{"mark":{"type":"text","text":"g","fontSize":10,"color":"#1a9696","align":"left","baseline":"alphabetic"},"encoding":{"x":{"datum":-1.841,"type":"quantitative","axis":null},"y":{"datum":-0.215,"type":"quantitative","axis":null}}},
{"mark":{"type":"text","text":"1","fontSize":10,"color":"#1a9696","align":"left","baseline":"alphabetic"},"encoding":{"x":{"datum":-1.841,"type":"quantitative","axis":null},"y":{"datum":-0.01,"type":"quantitative","axis":null}}}
]},
{"width":229.333,"height":168.5,"data":{"values":[{}]},"layer":[
{"data":{"name":"rings"},"transform":[{"filter":"datum.r<1"}],"mark":{"type":"point","shape":"circle","filled":false,"color":"#a6a6a6","strokeWidth":1,"opacity":1},"encoding":{"x":{"datum":0,"type":"quantitative","axis":null,"scale":{"domain":[-2.6333,1.8634],"nice":false,"zero":false}},"y":{"datum":0,"type":"quantitative","axis":null,"scale":{"domain":[-1.9706,1.3333],"nice":false,"zero":false}},"size":{"field":"r","type":"quantitative","legend":null,"scale":{"type":"pow","exponent":2,"domain":[0,1],"range":[0,10404],"zero":true}}}},
{"data":{"name":"ang30"},"transform":[{"calculate":"0","as":"z"},{"calculate":"cos(datum.a*PI/180)","as":"cx"},{"calculate":"sin(datum.a*PI/180)","as":"cy"}],"mark":{"type":"rule","color":"#a6a6a6","strokeWidth":1},"encoding":{"x":{"field":"z","type":"quantitative","axis":null},"y":{"field":"z","type":"quantitative","axis":null},"x2":{"field":"cx"},"y2":{"field":"cy"}}},
{"data":{"name":"rings"},"transform":[{"filter":"datum.r==1"}],"mark":{"type":"point","shape":"circle","filled":false,"color":"#000000","strokeWidth":1.3,"opacity":1},"encoding":{"x":{"datum":0,"type":"quantitative","axis":null},"y":{"datum":0,"type":"quantitative","axis":null},"size":{"field":"r","type":"quantitative","legend":null}}},
{"data":{"name":"ang15"},"transform":[{"calculate":"0.9*cos(datum.a*PI/180)","as":"x1"},{"calculate":"0.9*sin(datum.a*PI/180)","as":"y1"},{"calculate":"cos(datum.a*PI/180)","as":"x2"},{"calculate":"sin(datum.a*PI/180)","as":"y2"}],"mark":{"type":"rule","color":"#000000","strokeWidth":1},"encoding":{"x":{"field":"x1","type":"quantitative","axis":null},"y":{"field":"y1","type":"quantitative","axis":null},"x2":{"field":"x2"},"y2":{"field":"y2"}}},
{"mark":{"type":"point","filled":true,"color":"#888888","size":14,"opacity":1},"encoding":{"x":{"datum":0,"type":"quantitative","axis":null},"y":{"datum":0,"type":"quantitative","axis":null}}},
{"data":{"name":"ang30"},"transform":[{"calculate":"cos(datum.a*PI/180)","as":"c"},{"calculate":"sin(datum.a*PI/180)","as":"s"},{"calculate":"1.078+abs(datum.c)*0.0818*length(datum.t)+abs(datum.s)*0.108","as":"rho"},{"calculate":"datum.rho*datum.c","as":"lx"},{"calculate":"datum.rho*datum.s","as":"ly"}],"mark":{"type":"text","fontSize":15,"align":"center","baseline":"middle"},"encoding":{"x":{"field":"lx","type":"quantitative","axis":null},"y":{"field":"ly","type":"quantitative","axis":null},"text":{"field":"t","type":"nominal"}}},
{"data":{"name":"a2d"},"transform":[{"calculate":"datum.r*cos(datum.a*PI/180)","as":"x"},{"calculate":"datum.r*sin(datum.a*PI/180)","as":"y"}],"mark":{"type":"point","filled":true,"color":"#8c0c8c","size":90,"opacity":1},"encoding":{"x":{"field":"x","type":"quantitative","axis":null},"y":{"field":"y","type":"quantitative","axis":null}}},
{"data":{"name":"a2d"},"transform":[{"calculate":"datum.r*cos(datum.a*PI/180)","as":"x"},{"calculate":"datum.r*sin(datum.a*PI/180)","as":"y"}],"mark":{"type":"point","filled":true,"color":"#ecc6ec","size":9,"opacity":1},"encoding":{"x":{"field":"x","type":"quantitative","axis":null},"y":{"field":"y","type":"quantitative","axis":null}}},
{"data":{"name":"a2f"},"transform":[{"calculate":"datum.r*cos(datum.a*PI/180)","as":"x"},{"calculate":"datum.r*sin(datum.a*PI/180)","as":"y"}],"mark":{"type":"line","interpolate":"cardinal-closed","color":"#ff00ff","strokeWidth":2},"encoding":{"x":{"field":"x","type":"quantitative","axis":null},"y":{"field":"y","type":"quantitative","axis":null},"order":{"field":"a","type":"quantitative"}}},
{"mark":{"type":"text","text":"(a2)","fontSize":16,"align":"center","baseline":"middle"},"encoding":{"x":{"datum":-1.857,"type":"quantitative","axis":null},"y":{"datum":1.161,"type":"quantitative","axis":null}}},
{"mark":{"type":"text","text":"A","fontSize":16,"color":"#9c1c9c","align":"left","baseline":"alphabetic"},"encoding":{"x":{"datum":-2.373,"type":"quantitative","axis":null},"y":{"datum":-0.11,"type":"quantitative","axis":null}}},
{"mark":{"type":"text","text":"g","fontSize":10,"color":"#9c1c9c","align":"left","baseline":"alphabetic"},"encoding":{"x":{"datum":-2.124,"type":"quantitative","axis":null},"y":{"datum":-0.215,"type":"quantitative","axis":null}}},
{"mark":{"type":"text","text":"2","fontSize":10,"color":"#9c1c9c","align":"left","baseline":"alphabetic"},"encoding":{"x":{"datum":-2.124,"type":"quantitative","axis":null},"y":{"datum":-0.01,"type":"quantitative","axis":null}}},
{"mark":{"type":"text","text":"λ","fontSize":16,"fontStyle":"italic","align":"left","baseline":"alphabetic"},"encoding":{"x":{"datum":0.255,"type":"quantitative","axis":null},"y":{"datum":-1.637,"type":"quantitative","axis":null}}},
{"mark":{"type":"text","text":"i","fontSize":10.5,"align":"left","baseline":"alphabetic"},"encoding":{"x":{"datum":0.398,"type":"quantitative","axis":null},"y":{"datum":-1.7,"type":"quantitative","axis":null}}},
{"mark":{"type":"text","text":"=633nm","fontSize":16,"align":"left","baseline":"alphabetic"},"encoding":{"x":{"datum":0.451,"type":"quantitative","axis":null},"y":{"datum":-1.637,"type":"quantitative","axis":null}}}
]},
{"width":229.333,"height":168.5,"data":{"values":[{}]},"layer":[
{"data":{"name":"rings"},"transform":[{"filter":"datum.r<1"}],"mark":{"type":"point","shape":"circle","filled":false,"color":"#a6a6a6","strokeWidth":1,"opacity":1},"encoding":{"x":{"datum":0,"type":"quantitative","axis":null,"scale":{"domain":[-1.9092,2.5876],"nice":false,"zero":false}},"y":{"datum":0,"type":"quantitative","axis":null,"scale":{"domain":[-1.9706,1.3333],"nice":false,"zero":false}},"size":{"field":"r","type":"quantitative","legend":null,"scale":{"type":"pow","exponent":2,"domain":[0,1],"range":[0,10404],"zero":true}}}},
{"data":{"name":"ang30"},"transform":[{"calculate":"0","as":"z"},{"calculate":"cos(datum.a*PI/180)","as":"cx"},{"calculate":"sin(datum.a*PI/180)","as":"cy"}],"mark":{"type":"rule","color":"#a6a6a6","strokeWidth":1},"encoding":{"x":{"field":"z","type":"quantitative","axis":null},"y":{"field":"z","type":"quantitative","axis":null},"x2":{"field":"cx"},"y2":{"field":"cy"}}},
{"data":{"name":"rings"},"transform":[{"filter":"datum.r==1"}],"mark":{"type":"point","shape":"circle","filled":false,"color":"#000000","strokeWidth":1.3,"opacity":1},"encoding":{"x":{"datum":0,"type":"quantitative","axis":null},"y":{"datum":0,"type":"quantitative","axis":null},"size":{"field":"r","type":"quantitative","legend":null}}},
{"data":{"name":"ang15"},"transform":[{"calculate":"0.9*cos(datum.a*PI/180)","as":"x1"},{"calculate":"0.9*sin(datum.a*PI/180)","as":"y1"},{"calculate":"cos(datum.a*PI/180)","as":"x2"},{"calculate":"sin(datum.a*PI/180)","as":"y2"}],"mark":{"type":"rule","color":"#000000","strokeWidth":1},"encoding":{"x":{"field":"x1","type":"quantitative","axis":null},"y":{"field":"y1","type":"quantitative","axis":null},"x2":{"field":"x2"},"y2":{"field":"y2"}}},
{"mark":{"type":"point","filled":true,"color":"#888888","size":14,"opacity":1},"encoding":{"x":{"datum":0,"type":"quantitative","axis":null},"y":{"datum":0,"type":"quantitative","axis":null}}},
{"data":{"name":"ang30"},"transform":[{"calculate":"cos(datum.a*PI/180)","as":"c"},{"calculate":"sin(datum.a*PI/180)","as":"s"},{"calculate":"1.078+abs(datum.c)*0.0818*length(datum.t)+abs(datum.s)*0.108","as":"rho"},{"calculate":"datum.rho*datum.c","as":"lx"},{"calculate":"datum.rho*datum.s","as":"ly"}],"mark":{"type":"text","fontSize":15,"align":"center","baseline":"middle"},"encoding":{"x":{"field":"lx","type":"quantitative","axis":null},"y":{"field":"ly","type":"quantitative","axis":null},"text":{"field":"t","type":"nominal"}}},
{"data":{"name":"a4d"},"transform":[{"calculate":"datum.r*cos(datum.a*PI/180)","as":"x"},{"calculate":"datum.r*sin(datum.a*PI/180)","as":"y"}],"mark":{"type":"point","filled":true,"color":"#8c0c8c","size":90,"opacity":1},"encoding":{"x":{"field":"x","type":"quantitative","axis":null},"y":{"field":"y","type":"quantitative","axis":null}}},
{"data":{"name":"a4d"},"transform":[{"calculate":"datum.r*cos(datum.a*PI/180)","as":"x"},{"calculate":"datum.r*sin(datum.a*PI/180)","as":"y"}],"mark":{"type":"point","filled":true,"color":"#ecc6ec","size":9,"opacity":1},"encoding":{"x":{"field":"x","type":"quantitative","axis":null},"y":{"field":"y","type":"quantitative","axis":null}}},
{"data":{"name":"a4f"},"transform":[{"calculate":"datum.r*cos(datum.a*PI/180)","as":"x"},{"calculate":"datum.r*sin(datum.a*PI/180)","as":"y"}],"mark":{"type":"line","interpolate":"cardinal-closed","color":"#ff00ff","strokeWidth":2},"encoding":{"x":{"field":"x","type":"quantitative","axis":null},"y":{"field":"y","type":"quantitative","axis":null},"order":{"field":"a","type":"quantitative"}}},
{"mark":{"type":"text","text":"(a4)","fontSize":16,"align":"center","baseline":"middle"},"encoding":{"x":{"datum":-1.782,"type":"quantitative","axis":null},"y":{"datum":1.163,"type":"quantitative","axis":null}}},
{"mark":{"type":"text","text":"d","fontSize":16,"fontStyle":"italic","align":"left","baseline":"alphabetic"},"encoding":{"x":{"datum":-1.863,"type":"quantitative","axis":null},"y":{"datum":-1.637,"type":"quantitative","axis":null}}},
{"mark":{"type":"text","text":"SiO","fontSize":10.5,"align":"left","baseline":"alphabetic"},"encoding":{"x":{"datum":-1.7,"type":"quantitative","axis":null},"y":{"datum":-1.7,"type":"quantitative","axis":null}}},
{"mark":{"type":"text","text":"2","fontSize":7.5,"align":"left","baseline":"alphabetic"},"encoding":{"x":{"datum":-1.357,"type":"quantitative","axis":null},"y":{"datum":-1.75,"type":"quantitative","axis":null}}},
{"mark":{"type":"text","text":"=305nm","fontSize":16,"align":"left","baseline":"alphabetic"},"encoding":{"x":{"datum":-1.243,"type":"quantitative","axis":null},"y":{"datum":-1.637,"type":"quantitative","axis":null}}}
]},
{"width":229.333,"height":168.5,"data":{"values":[{}]},"layer":[
{"data":{"name":"rings"},"transform":[{"filter":"datum.r<1"}],"mark":{"type":"point","shape":"circle","filled":false,"color":"#a6a6a6","strokeWidth":1,"opacity":1},"encoding":{"x":{"datum":0,"type":"quantitative","axis":null,"scale":{"domain":[-1.8555,2.6412],"nice":false,"zero":false}},"y":{"datum":0,"type":"quantitative","axis":null,"scale":{"domain":[-1.9706,1.3333],"nice":false,"zero":false}},"size":{"field":"r","type":"quantitative","legend":null,"scale":{"type":"pow","exponent":2,"domain":[0,1],"range":[0,10404],"zero":true}}}},
{"data":{"name":"ang30"},"transform":[{"calculate":"0","as":"z"},{"calculate":"cos(datum.a*PI/180)","as":"cx"},{"calculate":"sin(datum.a*PI/180)","as":"cy"}],"mark":{"type":"rule","color":"#a6a6a6","strokeWidth":1},"encoding":{"x":{"field":"z","type":"quantitative","axis":null},"y":{"field":"z","type":"quantitative","axis":null},"x2":{"field":"cx"},"y2":{"field":"cy"}}},
{"data":{"name":"rings"},"transform":[{"filter":"datum.r==1"}],"mark":{"type":"point","shape":"circle","filled":false,"color":"#000000","strokeWidth":1.3,"opacity":1},"encoding":{"x":{"datum":0,"type":"quantitative","axis":null},"y":{"datum":0,"type":"quantitative","axis":null},"size":{"field":"r","type":"quantitative","legend":null}}},
{"data":{"name":"ang15"},"transform":[{"calculate":"0.9*cos(datum.a*PI/180)","as":"x1"},{"calculate":"0.9*sin(datum.a*PI/180)","as":"y1"},{"calculate":"cos(datum.a*PI/180)","as":"x2"},{"calculate":"sin(datum.a*PI/180)","as":"y2"}],"mark":{"type":"rule","color":"#000000","strokeWidth":1},"encoding":{"x":{"field":"x1","type":"quantitative","axis":null},"y":{"field":"y1","type":"quantitative","axis":null},"x2":{"field":"x2"},"y2":{"field":"y2"}}},
{"mark":{"type":"point","filled":true,"color":"#888888","size":14,"opacity":1},"encoding":{"x":{"datum":0,"type":"quantitative","axis":null},"y":{"datum":0,"type":"quantitative","axis":null}}},
{"data":{"name":"ang30"},"transform":[{"calculate":"cos(datum.a*PI/180)","as":"c"},{"calculate":"sin(datum.a*PI/180)","as":"s"},{"calculate":"1.078+abs(datum.c)*0.0818*length(datum.t)+abs(datum.s)*0.108","as":"rho"},{"calculate":"datum.rho*datum.c","as":"lx"},{"calculate":"datum.rho*datum.s","as":"ly"}],"mark":{"type":"text","fontSize":15,"align":"center","baseline":"middle"},"encoding":{"x":{"field":"lx","type":"quantitative","axis":null},"y":{"field":"ly","type":"quantitative","axis":null},"text":{"field":"t","type":"nominal"}}},
{"data":{"name":"b2d"},"transform":[{"calculate":"datum.r*cos(datum.a*PI/180)","as":"x"},{"calculate":"datum.r*sin(datum.a*PI/180)","as":"y"}],"mark":{"type":"point","filled":true,"color":"#8c0c8c","size":90,"opacity":1},"encoding":{"x":{"field":"x","type":"quantitative","axis":null},"y":{"field":"y","type":"quantitative","axis":null}}},
{"data":{"name":"b2d"},"transform":[{"calculate":"datum.r*cos(datum.a*PI/180)","as":"x"},{"calculate":"datum.r*sin(datum.a*PI/180)","as":"y"}],"mark":{"type":"point","filled":true,"color":"#ecc6ec","size":9,"opacity":1},"encoding":{"x":{"field":"x","type":"quantitative","axis":null},"y":{"field":"y","type":"quantitative","axis":null}}},
{"data":{"name":"b2f"},"transform":[{"calculate":"datum.r*cos(datum.a*PI/180)","as":"x"},{"calculate":"datum.r*sin(datum.a*PI/180)","as":"y"}],"mark":{"type":"line","interpolate":"cardinal-closed","color":"#ff00ff","strokeWidth":2},"encoding":{"x":{"field":"x","type":"quantitative","axis":null},"y":{"field":"y","type":"quantitative","axis":null},"order":{"field":"a","type":"quantitative"}}},
{"mark":{"type":"text","text":"(b2)","fontSize":16,"align":"center","baseline":"middle"},"encoding":{"x":{"datum":-1.894,"type":"quantitative","axis":null},"y":{"datum":1.176,"type":"quantitative","axis":null}}},
{"mark":{"type":"text","text":"A","fontSize":16,"color":"#9c1c9c","align":"left","baseline":"alphabetic"},"encoding":{"x":{"datum":-2.09,"type":"quantitative","axis":null},"y":{"datum":-0.11,"type":"quantitative","axis":null}}},
{"mark":{"type":"text","text":"g","fontSize":10,"color":"#9c1c9c","align":"left","baseline":"alphabetic"},"encoding":{"x":{"datum":-1.841,"type":"quantitative","axis":null},"y":{"datum":-0.215,"type":"quantitative","axis":null}}},
{"mark":{"type":"text","text":"2","fontSize":10,"color":"#9c1c9c","align":"left","baseline":"alphabetic"},"encoding":{"x":{"datum":-1.841,"type":"quantitative","axis":null},"y":{"datum":-0.01,"type":"quantitative","axis":null}}},
{"mark":{"type":"text","text":"λ","fontSize":16,"fontStyle":"italic","align":"left","baseline":"alphabetic"},"encoding":{"x":{"datum":-1.535,"type":"quantitative","axis":null},"y":{"datum":-1.637,"type":"quantitative","axis":null}}},
{"mark":{"type":"text","text":"i","fontSize":10.5,"align":"left","baseline":"alphabetic"},"encoding":{"x":{"datum":-1.373,"type":"quantitative","axis":null},"y":{"datum":-1.7,"type":"quantitative","axis":null}}},
{"mark":{"type":"text","text":"=633nm","fontSize":16,"align":"left","baseline":"alphabetic"},"encoding":{"x":{"datum":-1.306,"type":"quantitative","axis":null},"y":{"datum":-1.637,"type":"quantitative","axis":null}}},
{"mark":{"type":"text","text":"d","fontSize":16,"fontStyle":"italic","align":"left","baseline":"alphabetic"},"encoding":{"x":{"datum":0.098,"type":"quantitative","axis":null},"y":{"datum":-1.637,"type":"quantitative","axis":null}}},
{"mark":{"type":"text","text":"SiO","fontSize":10.5,"align":"left","baseline":"alphabetic"},"encoding":{"x":{"datum":0.263,"type":"quantitative","axis":null},"y":{"datum":-1.7,"type":"quantitative","axis":null}}},
{"mark":{"type":"text","text":"2","fontSize":7.5,"align":"left","baseline":"alphabetic"},"encoding":{"x":{"datum":0.606,"type":"quantitative","axis":null},"y":{"datum":-1.75,"type":"quantitative","axis":null}}},
{"mark":{"type":"text","text":"=723nm","fontSize":16,"align":"left","baseline":"alphabetic"},"encoding":{"x":{"datum":0.753,"type":"quantitative","axis":null},"y":{"datum":-1.637,"type":"quantitative","axis":null}}}
]}
]
}
